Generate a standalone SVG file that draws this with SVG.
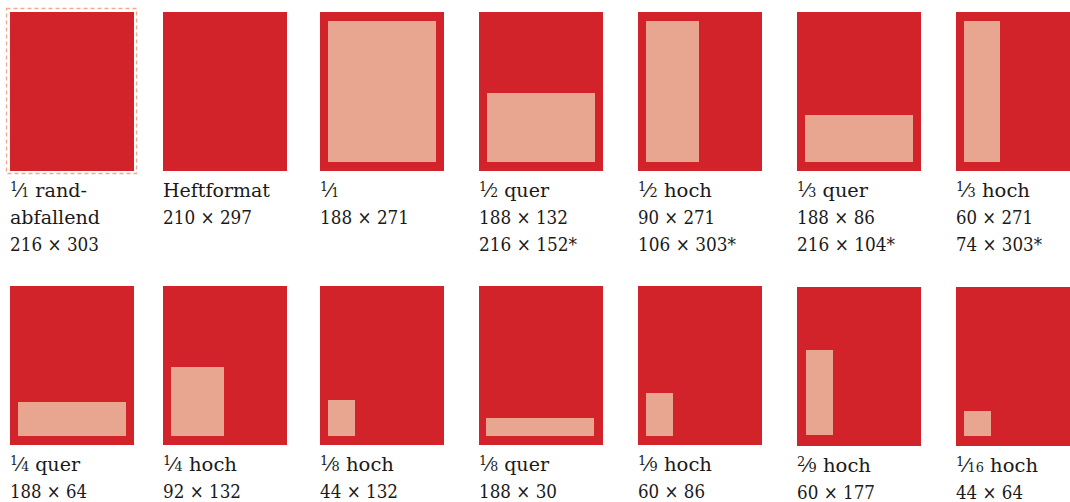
<svg xmlns="http://www.w3.org/2000/svg" width="1070" height="502" viewBox="0 0 1070 502">
<style>
.page{fill:#D2232B}
.ad{fill:#E8A690}
.bleed{fill:none;stroke:#F2A98F;stroke-width:1.3;stroke-dasharray:4 3}
text{font-family:"DejaVu Serif","Liberation Serif",serif;font-size:19px;fill:#1a1a1a}
.f{font-size:12.5px}
</style>
<rect width="1070" height="502" fill="#fff"/>
<g id="n1">
<rect class="bleed" x="6.5" y="8.5" width="130" height="165"/>
<rect class="page" x="10" y="12" width="124" height="159"/>
<text x="10" y="197" textLength="77" lengthAdjust="spacingAndGlyphs"><tspan class="f" dy="-6">1</tspan><tspan dy="6">⁄</tspan><tspan class="f">1</tspan> rand-</text>
<text x="10" y="224" textLength="90" lengthAdjust="spacingAndGlyphs">abfallend</text>
<text x="10" y="251" textLength="89" lengthAdjust="spacingAndGlyphs">216 × 303</text>
</g>
<g id="n2">
<rect class="page" x="163" y="12" width="124" height="159"/>
<text x="163" y="197" textLength="107" lengthAdjust="spacingAndGlyphs">Heftformat</text>
<text x="163" y="224" textLength="89" lengthAdjust="spacingAndGlyphs">210 × 297</text>
</g>
<g id="n3">
<rect class="page" x="320" y="12" width="124" height="159"/>
<rect class="ad" x="328" y="21" width="108" height="141"/>
<text x="320" y="197"><tspan class="f" dy="-6">1</tspan><tspan dy="6">⁄</tspan><tspan class="f">1</tspan></text>
<text x="320" y="224" textLength="89" lengthAdjust="spacingAndGlyphs">188 × 271</text>
</g>
<g id="n4">
<rect class="page" x="479" y="12" width="124" height="159"/>
<rect class="ad" x="487" y="93" width="108" height="69"/>
<text x="479" y="197" textLength="70" lengthAdjust="spacingAndGlyphs"><tspan class="f" dy="-6">1</tspan><tspan dy="6">⁄</tspan><tspan class="f">2</tspan> quer</text>
<text x="479" y="224" textLength="89" lengthAdjust="spacingAndGlyphs">188 × 132</text>
<text x="479" y="251" textLength="98" lengthAdjust="spacingAndGlyphs">216 × 152*</text>
</g>
<g id="n5">
<rect class="page" x="638" y="12" width="124" height="159"/>
<rect class="ad" x="646" y="21" width="53" height="141"/>
<text x="638" y="197" textLength="74" lengthAdjust="spacingAndGlyphs"><tspan class="f" dy="-6">1</tspan><tspan dy="6">⁄</tspan><tspan class="f">2</tspan> hoch</text>
<text x="638" y="224" textLength="77" lengthAdjust="spacingAndGlyphs">90 × 271</text>
<text x="638" y="251" textLength="98" lengthAdjust="spacingAndGlyphs">106 × 303*</text>
</g>
<g id="n6">
<rect class="page" x="797" y="12" width="124" height="159"/>
<rect class="ad" x="805" y="115" width="108" height="47"/>
<text x="797" y="197" textLength="71" lengthAdjust="spacingAndGlyphs"><tspan class="f" dy="-6">1</tspan><tspan dy="6">⁄</tspan><tspan class="f">3</tspan> quer</text>
<text x="797" y="224" textLength="78" lengthAdjust="spacingAndGlyphs">188 × 86</text>
<text x="797" y="251" textLength="98" lengthAdjust="spacingAndGlyphs">216 × 104*</text>
</g>
<g id="n7">
<rect class="page" x="956" y="12" width="124" height="159"/>
<rect class="ad" x="964" y="21" width="36" height="141"/>
<text x="956" y="197" textLength="74" lengthAdjust="spacingAndGlyphs"><tspan class="f" dy="-6">1</tspan><tspan dy="6">⁄</tspan><tspan class="f">3</tspan> hoch</text>
<text x="956" y="224" textLength="77" lengthAdjust="spacingAndGlyphs">60 × 271</text>
<text x="956" y="251" textLength="86" lengthAdjust="spacingAndGlyphs">74 × 303*</text>
</g>
<g id="n8">
<rect class="page" x="10" y="286" width="124" height="159"/>
<rect class="ad" x="18" y="402" width="108" height="34"/>
<text x="10" y="471" textLength="70" lengthAdjust="spacingAndGlyphs"><tspan class="f" dy="-6">1</tspan><tspan dy="6">⁄</tspan><tspan class="f">4</tspan> quer</text>
<text x="10" y="498" textLength="77" lengthAdjust="spacingAndGlyphs">188 × 64</text>
</g>
<g id="n9">
<rect class="page" x="163" y="286" width="124" height="159"/>
<rect class="ad" x="171" y="367" width="53" height="69"/>
<text x="163" y="471" textLength="74" lengthAdjust="spacingAndGlyphs"><tspan class="f" dy="-6">1</tspan><tspan dy="6">⁄</tspan><tspan class="f">4</tspan> hoch</text>
<text x="163" y="498" textLength="78" lengthAdjust="spacingAndGlyphs">92 × 132</text>
</g>
<g id="n10">
<rect class="page" x="320" y="286" width="124" height="159"/>
<rect class="ad" x="328" y="400" width="27" height="36"/>
<text x="320" y="471" textLength="74" lengthAdjust="spacingAndGlyphs"><tspan class="f" dy="-6">1</tspan><tspan dy="6">⁄</tspan><tspan class="f">8</tspan> hoch</text>
<text x="320" y="498" textLength="78" lengthAdjust="spacingAndGlyphs">44 × 132</text>
</g>
<g id="n11">
<rect class="page" x="479" y="286" width="124" height="159"/>
<rect class="ad" x="486" y="418" width="108" height="18"/>
<text x="479" y="471" textLength="70" lengthAdjust="spacingAndGlyphs"><tspan class="f" dy="-6">1</tspan><tspan dy="6">⁄</tspan><tspan class="f">8</tspan> quer</text>
<text x="479" y="498" textLength="78" lengthAdjust="spacingAndGlyphs">188 × 30</text>
</g>
<g id="n12">
<rect class="page" x="638" y="286" width="124" height="159"/>
<rect class="ad" x="646" y="393" width="27" height="43"/>
<text x="638" y="471" textLength="74" lengthAdjust="spacingAndGlyphs"><tspan class="f" dy="-6">1</tspan><tspan dy="6">⁄</tspan><tspan class="f">9</tspan> hoch</text>
<text x="638" y="498" textLength="67" lengthAdjust="spacingAndGlyphs">60 × 86</text>
</g>
<g id="n13">
<rect class="page" x="797" y="287" width="124" height="159"/>
<rect class="ad" x="806" y="350" width="27" height="85"/>
<text x="797" y="472" textLength="74" lengthAdjust="spacingAndGlyphs"><tspan class="f" dy="-6">2</tspan><tspan dy="6">⁄</tspan><tspan class="f">9</tspan> hoch</text>
<text x="797" y="499" textLength="78" lengthAdjust="spacingAndGlyphs">60 × 177</text>
</g>
<g id="n14">
<rect class="page" x="956" y="287" width="124" height="159"/>
<rect class="ad" x="964" y="411" width="27" height="25"/>
<text x="956" y="472" textLength="82" lengthAdjust="spacingAndGlyphs"><tspan class="f" dy="-6">1</tspan><tspan dy="6">⁄</tspan><tspan class="f">16</tspan> hoch</text>
<text x="956" y="499" textLength="67" lengthAdjust="spacingAndGlyphs">44 × 64</text>
</g>
<g id="connectors"/>
</svg>
